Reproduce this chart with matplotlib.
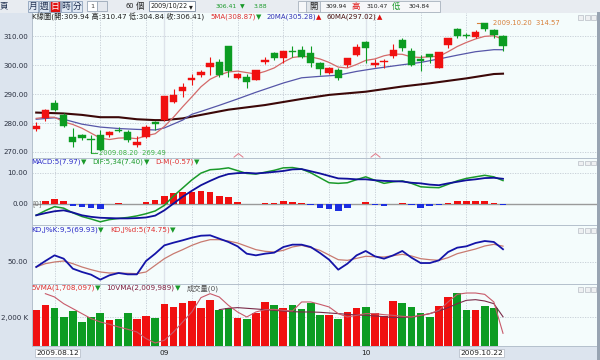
import numpy as np
import matplotlib.pyplot as plt
from matplotlib.patches import Rectangle
from matplotlib.path import Path

plt.rcParams['font.family'] = ['DejaVu Sans', 'Noto Sans CJK TC']

# ---- data ----
opens = [278.0, 281.6, 287.0, 282.8, 275.3, 275.9, 274.6, 275.9, 275.8, 277.6,
         277.0, 272.4, 275.1, 280.2, 281.0, 287.3, 291.0, 294.8, 296.6, 299.2,
         301.1, 306.6, 295.6, 296.0, 294.8, 301.1, 304.2, 302.3, 304.8, 305.2,
         304.0, 300.6, 297.4, 298.3, 300.0, 303.4, 308.0, 300.0, 301.1, 303.1,
         308.6, 304.9, 302.0, 303.8, 298.9, 306.9, 312.3, 310.2, 309.8, 314.4,
         312.1, 309.94]
highs = [280.2, 284.8, 288.0, 283.3, 278.2, 276.2, 276.0, 277.6, 277.4, 278.7,
         277.6, 275.5, 279.3, 280.6, 289.4, 291.6, 293.9, 296.9, 298.3, 302.9,
         302.2, 306.7, 297.4, 296.8, 298.3, 302.9, 304.5, 304.9, 306.6, 306.6,
         306.6, 301.1, 299.4, 298.9, 302.5, 307.2, 308.2, 302.0, 302.0, 307.2,
         309.5, 305.8, 303.4, 303.8, 304.6, 309.5, 312.8, 311.0, 312.0, 314.57,
         312.5, 310.47]
lows = [277.3, 280.8, 284.3, 278.7, 271.6, 274.1, 269.49, 270.5, 275.2, 277.0,
        273.5, 271.8, 274.7, 277.5, 280.6, 286.8, 289.1, 293.1, 296.0, 296.6,
        295.9, 295.9, 295.1, 292.0, 294.8, 300.3, 301.7, 300.8, 302.9, 302.3,
        299.2, 296.6, 296.9, 294.8, 299.3, 303.1, 300.6, 299.4, 299.0, 302.3,
        305.0, 299.7, 298.0, 300.6, 298.9, 306.0, 309.2, 309.2, 309.2, 311.8,
        309.2, 304.84]
closes = [279.1, 284.5, 284.5, 279.1, 273.6, 274.7, 274.2, 270.8, 277.0, 277.2,
          274.1, 273.5, 278.7, 279.8, 289.3, 289.7, 292.5, 295.4, 297.7, 300.6,
          296.6, 298.0, 296.8, 294.2, 298.3, 301.7, 302.3, 304.9, 304.4, 302.9,
          300.6, 298.5, 298.9, 295.4, 302.3, 306.3, 305.8, 300.6, 301.5, 305.2,
          305.8, 300.0, 301.5, 302.9, 304.6, 309.2, 310.0, 310.0, 311.5, 312.3,
          310.29, 306.41]

ma5 = [281.6, 282.0, 282.0, 280.4, 279.5, 278.2, 276.5, 274.8, 274.3, 274.8,
       274.9, 274.6, 275.6, 276.3, 278.8, 282.0, 285.6, 289.0, 292.5, 295.1,
       296.6, 297.6, 297.9, 297.4, 296.9, 297.8, 299.0, 301.0, 302.6, 303.0,
       302.8, 302.1, 300.9, 299.3, 299.0, 300.2, 301.6, 302.1, 303.2, 303.8,
       303.7, 302.8, 302.6, 302.9, 303.0, 304.6, 306.4, 307.8, 309.0, 309.9,
       310.1, 308.87]
ma20_idx = [0, 2, 3, 5, 7, 9, 11, 13, 14, 16, 17, 18, 20, 22, 24, 27, 29, 31,
            33, 35, 37, 40, 42, 44, 46, 48, 50, 51]
ma20 = [281.3, 281.8, 281.3, 279.6, 278.6, 278.1, 277.8, 277.6, 278.3, 281.0,
        283.0, 284.0, 286.1, 288.3, 290.6, 293.8, 295.6, 296.1, 296.5, 297.8,
        298.8, 300.1, 300.9, 302.1, 303.4, 304.6, 305.3, 305.28]
ma60_idx = [0, 3, 5, 7, 9, 11, 13, 14, 16, 18, 21, 25, 29, 32, 36, 40, 43, 47, 50, 51]
ma60 = [283.6, 283.3, 282.8, 282.0, 282.0, 281.3, 281.0, 281.0, 281.6, 282.8,
        284.6, 286.2, 288.3, 289.7, 290.8, 292.6, 293.7, 295.4, 296.9, 297.02]

macd = [-3.8, -3.1, -2.5, -2.2, -2.9, -3.8, -4.3, -4.6, -4.7, -4.8, -4.8, -4.7,
        -4.5, -3.9, -2.2, 0.0, 2.2, 4.1, 5.9, 7.3, 8.6, 9.5, 9.8, 9.9, 9.7, 9.9,
        10.2, 10.5, 11.0, 11.1, 10.4, 9.7, 8.9, 8.1, 8.0, 7.8, 7.8, 7.5, 7.3,
        7.2, 7.1, 6.7, 6.5, 6.1, 5.9, 6.5, 7.0, 7.5, 7.8, 8.2, 8.3, 7.97]
dif = [-3.8, -2.3, -1.0, -1.5, -3.0, -4.2, -5.0, -5.9, -5.2, -4.8, -4.5, -4.0,
       -3.3, -2.4, -0.6, 2.4, 5.0, 7.6, 9.8, 10.9, 11.1, 11.5, 10.6, 9.7, 9.5,
       10.1, 10.7, 11.5, 11.6, 11.1, 9.9, 8.3, 6.7, 6.5, 6.7, 7.7, 8.6, 7.5,
       6.5, 7.0, 7.3, 6.5, 5.4, 5.2, 5.1, 6.2, 7.3, 8.1, 8.6, 9.1, 8.6, 7.40]
osc = [0.0, 0.87, 1.6, 0.87, -0.65, -1.1, -1.3, -1.7, -0.1, 0.2, 0.0, 0.0,
       0.55, 1.1, 2.4, 3.5, 3.8, 3.8, 4.0, 3.6, 2.5, 2.0, 0.6, -0.1, -0.1, 0.3,
       0.3, 0.9, 0.5, 0.1, -0.5, -1.6, -1.9, -2.3, -1.3, 0.0, 0.4, -0.5, -0.8,
       -0.2, 0.1, -0.6, -1.3, -0.8, -0.6, 0.2, 0.95, 0.85, 0.85, 0.95, 0.3, -0.57]

kd_k = [42.2, 51.6, 60.4, 55.2, 39.6, 34.4, 30.2, 22.4, 29.2, 32.8, 30.7, 30.7,
        51.6, 63.0, 76.0, 80.2, 83.9, 88.0, 91.1, 91.7, 86.5, 81.3, 74.5, 63.0,
        60.4, 63.0, 64.6, 73.4, 77.1, 77.1, 73.4, 64.1, 53.6, 38.0, 47.4, 60.4,
        67.2, 58.9, 55.2, 60.4, 67.2, 56.8, 48.4, 48.4, 52.6, 65.6, 72.4, 74.5,
        79.7, 82.8, 81.3, 69.93]
kd_d = [42.2, 47.4, 50.0, 51.6, 47.4, 42.2, 38.0, 34.4, 32.8, 32.8, 32.3, 31.8,
        34.4, 44.8, 55.2, 63.0, 69.3, 76.0, 81.3, 84.9, 84.9, 82.8, 79.7, 74.5,
        69.3, 66.7, 65.6, 68.2, 73.5, 76.0, 72.4, 68.2, 60.9, 53.6, 52.6, 55.7,
        58.9, 58.3, 57.8, 59.9, 62.0, 59.4, 55.2, 53.6, 52.6, 56.8, 63.0, 66.7,
        70.3, 75.0, 77.6, 74.75]

# volume in thousands (last day traded 0)
volume = [2127, 2218, 2170, 2006, 2109, 1915, 2006, 2085, 1958, 1964, 2079, 1964,
          2024, 1988, 2248, 2188, 2267, 2297, 2170, 2315, 2139, 2170, 1988, 1976,
          2085, 2273, 2230, 2176, 2218, 2158, 2261, 2036, 2048, 1964, 2103, 2176,
          2188, 2085, 2018, 2297, 2261, 2188, 2085, 2006, 2200, 2370, 2442, 2139,
          2127, 2206, 2176, 0]
vma5_idx = list(range(1, 52))
vma5 = [2430, 2370, 2248, 2158, 2067, 1976, 1915, 1873, 1824, 1782, 1733, 1612,
        1533, 1582, 1733, 1915, 2097, 2358, 2430, 2370, 2218, 2097, 2006, 2097,
        2139, 2145, 2127, 2115, 2279, 2279, 2236, 2188, 2067, 2006, 2036, 2067,
        2067, 2048, 2036, 2018, 2006, 2036, 2067, 2127, 2279, 2418, 2442, 2442,
        2418, 2279, 1709]
vma10_idx = list(range(20, 52))
vma10 = [2139, 2164, 2176, 2164, 2152, 2139, 2127, 2115, 2103, 2097, 2097, 2091,
         2079, 2067, 2055, 2042, 2036, 2024, 2012, 1994, 2000, 2006, 2030, 2067,
         2115, 2176, 2248, 2309, 2321, 2297, 2248, 2010]

date_ticks = [0, 14, 36, 51]
date_labels = ['2009.08.12', '09', '10', '2009.10.22']
week_lines = list(range(2, 51, 5))
month_lines = [14, 36]
event_idx = [22, 37]

# ---- layout helpers (pixel based) ----
W, H = 600, 360
RED, GREEN, BLUE = '#f01010', '#0c9c22', '#1c2ee0'
TXT_G = '#1a9a2a'
FS = 4.9
fig = plt.figure(figsize=(6, 3.6), dpi=100, facecolor='#dce4ee')
rend = fig.canvas.get_renderer()


def box(x0, y0, x1, y1):
    return [x0 / W, 1 - y1 / H, (x1 - x0) / W, (y1 - y0) / H]


def T(x, y, s, c='#202020', **kw):
    kw.setdefault('fontsize', FS)
    kw.setdefault('va', 'center')
    return fig.text(x / W, 1 - y / H, s, color=c, **kw)


def chain(x, y, parts, fs=FS):
    # parts: (text, colour, gap after in px)
    for s, c, gap in parts:
        t = T(x, y, s, c, fontsize=fs)
        x += t.get_window_extent(renderer=rend).width + gap
    return x


def R(x0, y0, x1, y1, fc, ec='none', lw=0.6):
    fig.patches.append(Rectangle((x0 / W, 1 - y1 / H), (x1 - x0) / W, (y1 - y0) / H,
                                 transform=fig.transFigure, fc=fc, ec=ec, lw=lw))


x = np.arange(len(closes))
o, h, l, c = map(np.array, (opens, highs, lows, closes))
col = np.where(c >= o, RED, GREEN)

ax_k = fig.add_axes(box(32, 12, 597, 157.5))
ax_m = fig.add_axes(box(32, 157.5, 597, 224.5))
ax_kd = fig.add_axes(box(32, 224.5, 597, 283.5))
ax_v = fig.add_axes(box(32, 283.5, 597, 346))
axes = [ax_k, ax_m, ax_kd, ax_v]

for ax in axes:
    ax.set_facecolor('#f4fcfc')
    ax.set_xlim(-0.46, 61.27)
    ax.set_xticks([])
    for s in ax.spines.values():
        s.set_color('#b4c0cc')
        s.set_linewidth(0.7)
    ax.tick_params(axis='y', length=0, pad=3, labelsize=5.1, labelcolor='#2a3040')
    for wl in week_lines:
        ax.axvline(wl, color='#c4ccd4', lw=0.6, ls=(0, (1.5, 1.5)), zorder=0)
    for ml in month_lines:
        ax.axvline(ml, color='#dde3ea', lw=1.0, zorder=0)

# price panel
ax_k.set_ylim(268.1, 318.3)
pt = [310, 300, 290, 280, 270]
ax_k.set_yticks(pt, ['%.2f' % v for v in pt])
for v in pt:
    ax_k.axhline(v, color='#c4ccd4', lw=0.6, ls=(0, (1.5, 1.5)), zorder=0)
ax_k.plot(ma60_idx, ma60, color='#3c0808', lw=1.5, zorder=2)
ax_k.plot(ma20_idx, ma20, color='#5656a8', lw=0.9, zorder=2)
ax_k.plot(x, ma5, color='#d46a6a', lw=0.9, zorder=2)
ax_k.vlines(x, l, h, colors=col, lw=0.8, zorder=3)
ax_k.bar(x, np.maximum(np.abs(c - o), 0.15), bottom=np.minimum(o, c), width=0.8,
         color=col, edgecolor=col, lw=0.3, zorder=4)
hi = int(np.argmax(h))
lo = int(np.argmin(l))
ax_k.plot([hi - 0.8, hi - 0.2], [h[hi]] * 2, color='#d8803a', lw=0.8)
ax_k.text(hi + 0.9, h[hi], '2009.10.20  %.2f' % h[hi], color='#d8803a', fontsize=4.9, va='center')
ax_k.plot([lo, lo + 0.6], [l[lo]] * 2, color='#3cb043', lw=0.8)
ax_k.text(lo + 0.9, l[lo], '2009.08.20  %.2f' % l[lo], color='#3cb043', fontsize=4.9, va='center')
caret = Path([(-1, -0.4), (0, 0.4), (1, -0.4)])
ax_k.plot(event_idx, [268.9] * len(event_idx), ls='none', marker=caret, ms=7,
          mfc='none', mec='#e07888', mew=0.7, clip_on=False)

# MACD panel
ax_m.set_ylim(-6.77, 14.84)
ax_m.set_yticks([10, 0], ['10.00', '0.00'])
ax_m.axhline(10, color='#c4ccd4', lw=0.6, ls=(0, (1.5, 1.5)), zorder=0)
ax_m.axhline(0, color='#9a9a9a', lw=1.0, zorder=1)
oc = np.array(osc)
ax_m.bar(x, oc, width=0.72, color=np.where(oc >= 0, RED, BLUE), zorder=2)
ax_m.plot(x, dif, color='#1a9a2a', lw=1.1, zorder=3)
ax_m.plot(x, macd, color='#10109a', lw=1.3, zorder=3)

# KD panel
ax_kd.set_ylim(16.4, 108.6)
ax_kd.set_yticks([50], ['50.00'])
ax_kd.axhline(50, color='#c4ccd4', lw=0.6, ls=(0, (1.5, 1.5)), zorder=0)
ax_kd.plot(x, kd_d, color='#c87a70', lw=0.9)
ax_kd.plot(x, kd_k, color='#1414a8', lw=1.3)

# volume panel
ax_v.set_ylim(1478, 2615)
ax_v.set_yticks([2000], ['2,000 K'])
ax_v.axhline(2000, color='#c4ccd4', lw=0.6, ls=(0, (1.5, 1.5)), zorder=0)
ax_v.bar(x, volume, width=0.84, color=col, zorder=2)
ax_v.plot(vma10_idx, vma10, color='#7a2a48', lw=0.8, zorder=3)
ax_v.plot(vma5_idx, vma5, color='#c85a6a', lw=0.8, zorder=3)
ax_v.set_xticks(date_ticks, date_labels)
ax_v.tick_params(axis='x', length=0, pad=3, labelsize=5.3, labelcolor='#202020')
xl = ax_v.get_xticklabels()
xl[0].set_ha('left')
xl[-1].set_ha('right')
for t in (xl[0], xl[-1]):
    t.set_bbox(dict(fc='white', ec='#b0b8c4', lw=0.5, pad=0.6))

# ---- chrome ----
R(0, 0, 600, 12.5, '#e8ecf1')
R(597, 12, 600, 360, '#98a4b2')
T(0, 6, '頁', '#203050', fontsize=6)
for i, s in enumerate(['月', '週', '日', '時', '分']):
    x0 = 28 + i * 11
    on = s == '日'
    R(x0, 1, x0 + 10, 11.5, '#e01010' if on else '#dfe8f3', '#8ea2bc')
    T(x0 + 5, 6.3, s, 'white' if on else '#203050', fontsize=6.3, ha='center')
R(87, 1.5, 97, 11, 'white', '#9aa8b8')
T(92, 6.3, '1', '#404040', ha='center', fontsize=4.6)
R(97, 1.5, 107, 11, '#e4e8ee', '#9aa8b8')
T(134, 6.3, '60', '#202020', ha='right', fontsize=4.8)
T(135.5, 6.3, '個', '#202020', fontsize=6)
R(149, 1.5, 195, 11, 'white', '#7a8aa0')
T(150.5, 6.3, '2009/10/22', '#202020', fontsize=4.7)
T(189, 6.5, '▾', '#202020', fontsize=5.5)
chain(216, 6.3, [('306.41', TXT_G, 2.5), ('▼', TXT_G, 9), ('3.88', TXT_G, 0)], fs=4.4)
R(298, 0.5, 440, 11.5, '#f6f7f9', '#a8b2be')
R(306, 0.5, 320, 11.5, '#e2e6ea', '#a8b2be')
T(313, 6.3, '開', '#202020', fontsize=6, ha='center')
T(326, 6.3, '309.94', '#202020', fontsize=4.4)
T(352, 6.3, '高', '#e01010', fontsize=6)
T(367, 6.3, '310.47', '#202020', fontsize=4.4)
T(392, 6.3, '低', TXT_G, fontsize=6)
T(409, 6.3, '304.84', '#202020', fontsize=4.4)

# panel headers
T(32, 17, 'K線圖(開:309.94 高:310.47 低:304.84 收:306.41)', '#202020', fontsize=5.2)
chain(210, 17, [('5MA(308.87)', '#e03030', 0.5), ('▼', TXT_G, 5),
                ('20MA(305.28)', '#3434b8', 0.5), ('▲', '#e01010', 5),
                ('60MA(297.02)', '#4a1010', 0.5), ('▲', '#e01010', 0)], fs=5.0)
chain(31, 162, [('MACD:5(7.97)', '#2a2ac8', 0.5), ('▼', TXT_G, 6),
                ('DIF:5,34(7.40)', TXT_G, 0.5), ('▼', TXT_G, 6),
                ('D-M(-0.57)', '#e03030', 0.5), ('▼', TXT_G, 0)], fs=5.1)
T(32, 203.5, '[0]', '#707070', fontsize=4.8)
chain(31, 230, [('KD,J%K:9,5(69.93)', '#2a2ac8', 0.5), ('▼', TXT_G, 6),
                ('KD,J%d:5(74.75)', '#e03030', 0.5), ('▼', TXT_G, 0)], fs=5.2)
chain(31, 288, [('5VMA(1,708,097)', '#e03030', 0.5), ('▼', TXT_G, 6),
                ('10VMA(2,009,989)', '#802040', 0.5), ('▼', TXT_G, 6),
                ('成交量(0)', '#505050', 0)], fs=5.2)

for top in (12, 157.5, 224.5, 283.5):
    for k in range(3):
        R(578 + k * 6.5, top + 3, 583 + k * 6.5, top + 8, '#eef0f2', '#b8bec6', 0.5)

fig.savefig('out.png', dpi=100, facecolor=fig.get_facecolor())
